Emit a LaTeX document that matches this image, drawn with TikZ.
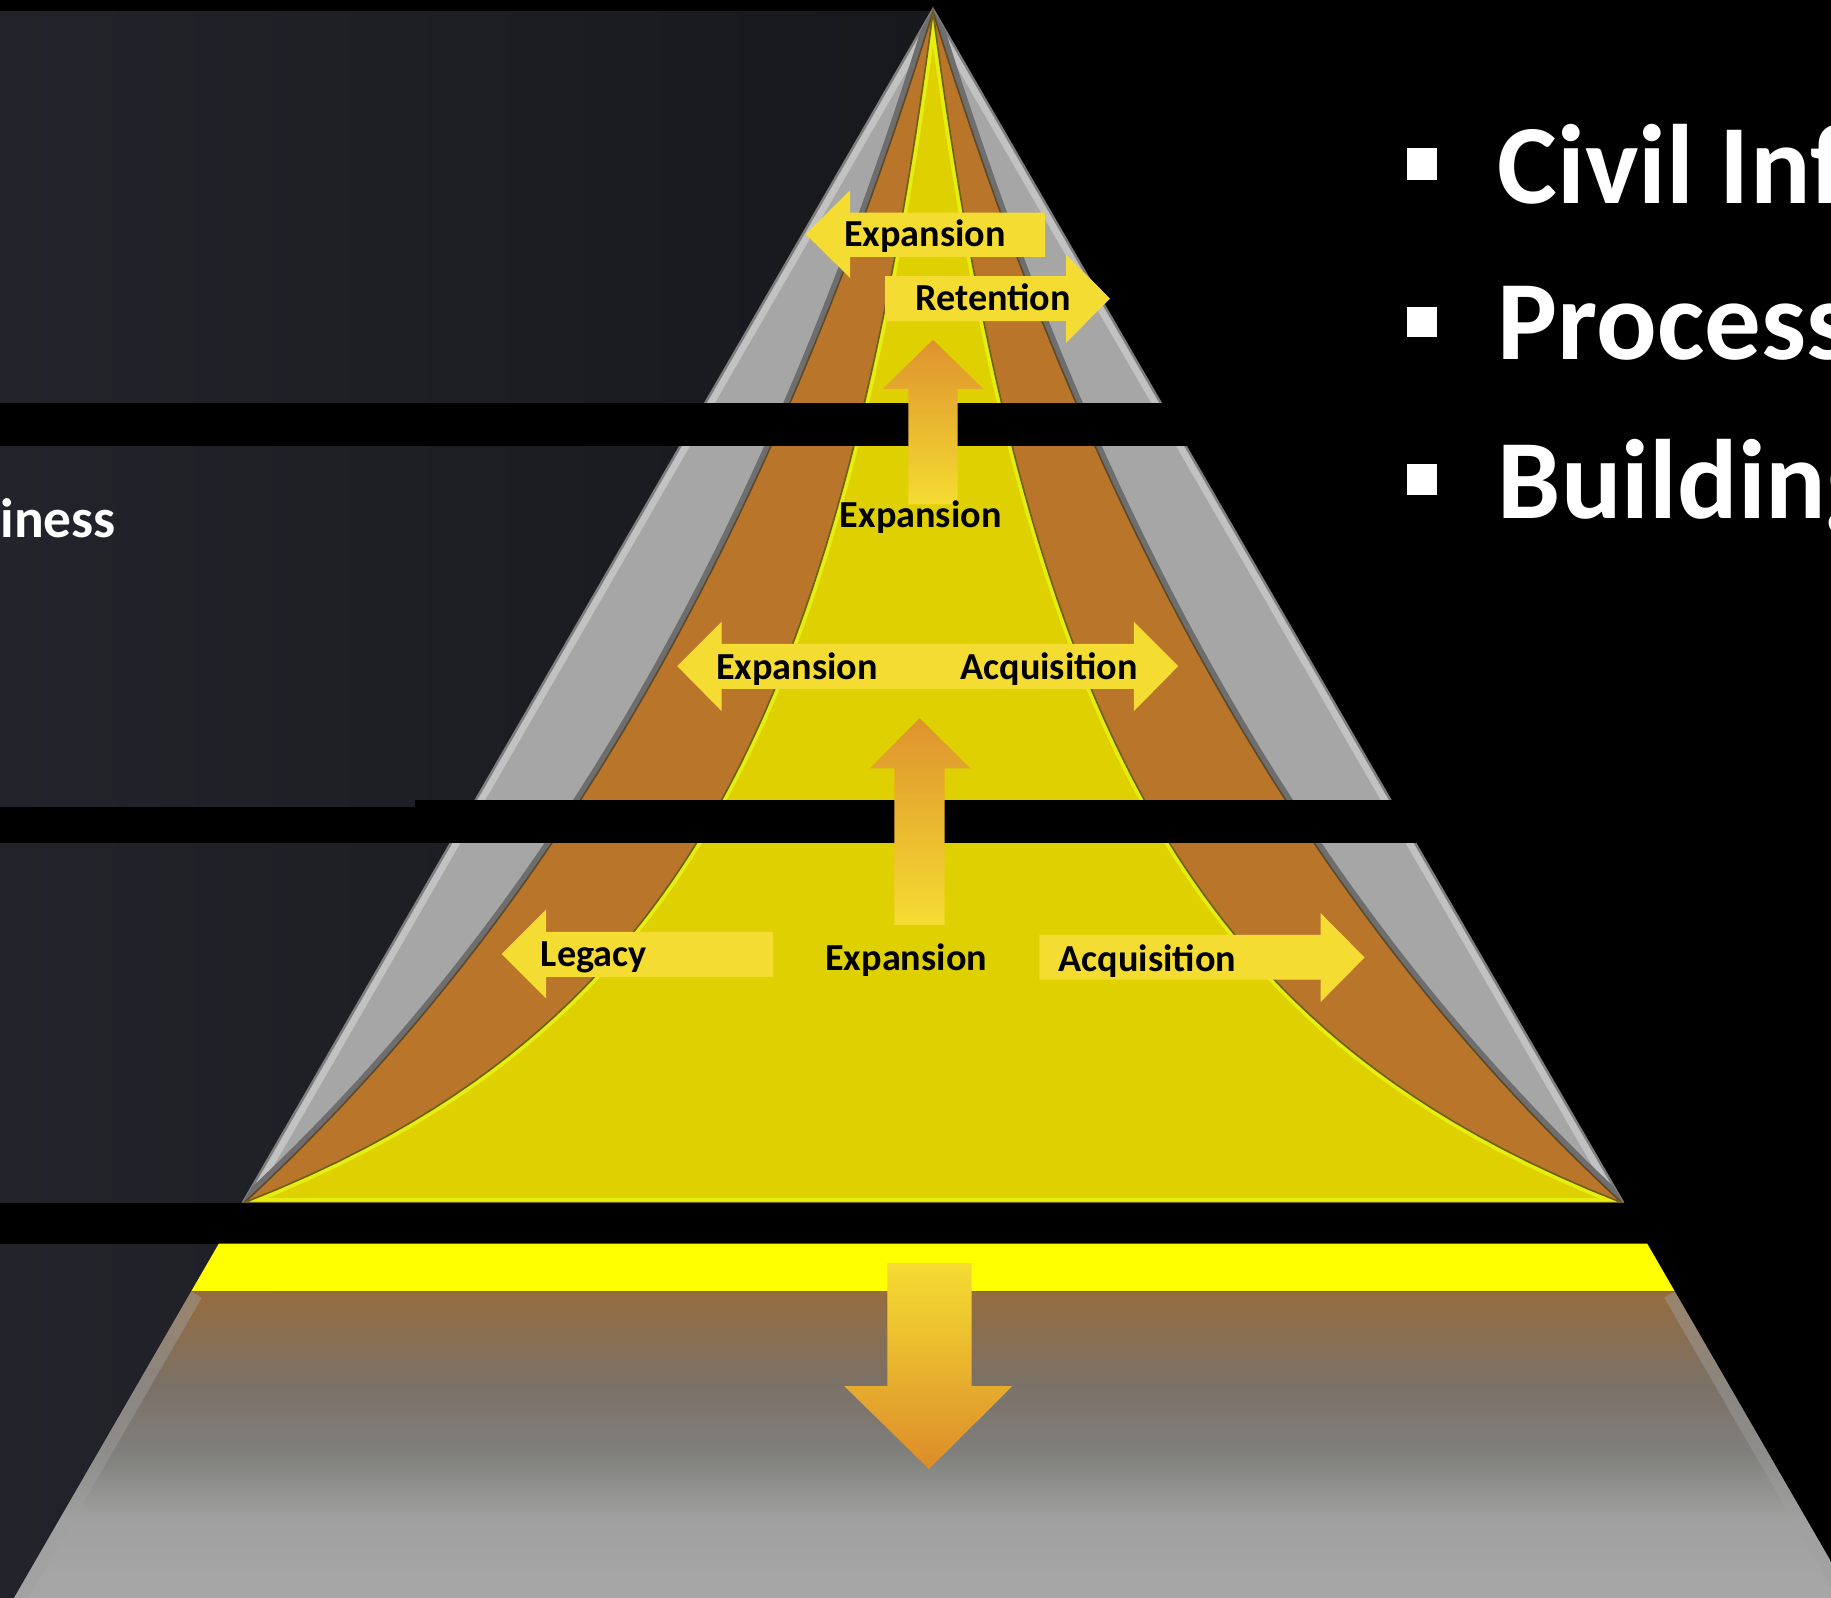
\documentclass[tikz,border=0pt]{standalone}
\usepackage{fontspec}
\setmainfont{Carlito}
\definecolor{panelL}{HTML}{23242B}
\definecolor{panelR}{HTML}{17181C}
\definecolor{pgray}{HTML}{A6A6A6}
\definecolor{glight}{HTML}{C2C2C2}
\definecolor{gedge}{HTML}{7E7E7E}
\definecolor{gshadow}{HTML}{6E6E6E}
\definecolor{porange}{HTML}{B9762A}
\definecolor{oedge}{HTML}{5E4A2A}
\definecolor{pyellow}{HTML}{DFD002}
\definecolor{ylime}{HTML}{E6EE10}
\definecolor{yedge}{HTML}{6E6018}
\definecolor{ayellow}{HTML}{F5DC32}
\definecolor{aorange}{HTML}{DE922E}
\definecolor{dorange}{HTML}{DC8C2A}
\definecolor{byellow}{HTML}{FFFF00}
\definecolor{cA}{HTML}{956C3E}
\definecolor{cB}{HTML}{7B7167}
\definecolor{cC}{HTML}{807F7C}
\definecolor{cD}{HTML}{A0A0A0}
\definecolor{cE}{HTML}{A7A7A7}
\pgfdeclareverticalshading{basegrad}{100bp}{color(0bp)=(cE); color(25bp)=(cE); color(38.5bp)=(cD); color(49bp)=(cC); color(60bp)=(cB); color(75bp)=(cA); color(100bp)=(cA)}
\def\gtri{(799,8) -- (208,1030) -- (1390,1030) -- cycle}
% orange outer boundary: dx = 681 s/(21.975 - s), y = 10 + 100 s
\def\opath{plot[domain=0:10.2, samples=90] ({799-681*\x/(21.975-\x)}, {10+100*\x}) -- plot[domain=0:10.2, samples=90] ({799+681*(10.2-\x)/(11.775+\x)}, {1030-100*\x}) -- cycle}
% yellow boundary: dx = 172.4 s/(13.18 - s)
\def\ypath{plot[domain=0:10.2, samples=90] ({799-172.4*\x/(13.18-\x)}, {10+100*\x}) -- plot[domain=0:10.2, samples=90] ({799+172.4*(10.2-\x)/(2.98+\x)}, {1030-100*\x}) -- cycle}
\def\basetrap{(163.7,1106) -- (1434.3,1106) -- (1588,1372) -- (10,1372) -- cycle}
\begin{document}
\begin{tikzpicture}[x=0.01cm,y=-0.01cm,
  lbl/.style={font=\fontsize{9.3pt}{11pt}\selectfont\bfseries, text=black, inner sep=0pt},
  bigtxt/.style={font=\fontsize{27.5pt}{33pt}\selectfont\bfseries, text=white, inner sep=0pt},
  sidetxt/.style={font=\fontsize{13.5pt}{16pt}\selectfont\bfseries, text=white, inner sep=0pt},
  yarrow/.style={fill=ayellow},
  uparrow/.style={top color=aorange, bottom color=ayellow},
  downarrow/.style={top color=ayellow, bottom color=dorange},
  bar/.style={fill=black}]
\useasboundingbox (0,0) rectangle (1568,1368);
\clip (0,0) rectangle (1568,1368);
\fill[black] (0,0) rectangle (1568,1368);
\shade[left color=panelL, right color=panelR] (0,10) rectangle (799,1368);
% pyramid
\fill[pgray] \gtri;
\begin{scope}
  \clip \gtri;
  \draw[line width=4pt, glight] (799,8) -- (208,1030) (799,8) -- (1390,1030);
\end{scope}
\draw[line width=0.6pt, gedge] (208,1030) -- (799,8) -- (1390,1030);
\begin{scope}
  \clip \gtri;
  \draw[line width=3pt, gshadow] \opath;
\end{scope}
\fill[porange] \opath;
\draw[line width=0.4pt, oedge] \opath;
\fill[pyellow] \ypath;
\begin{scope}
  \clip \ypath;
  \draw[line width=2.2pt, ylime] \ypath;
\end{scope}
\draw[line width=0.4pt, yedge] \ypath;
% black bars
\fill[bar] (0,345) rectangle (1568,382);
\fill[bar] (355,685) rectangle (1568,722);
\fill[bar] (0,691) rectangle (355,722);
\fill[bar] (0,1030) rectangle (1568,1065);
% base
\fill[byellow] (187.4,1065) -- (1410.6,1065) -- (1434.3,1106) -- (163.7,1106) -- cycle;
\shade[shading=basegrad] \basetrap;
\begin{scope}
  \clip \basetrap;
  \draw[line width=6pt, color=cD, opacity=0.45] (163.7,1106) -- (10,1372) (1434.3,1106) -- (1588,1372);
\end{scope}
% arrows
\fill[yarrow] (690,200.5) -- (728,163) -- (728,182) -- (895,182) -- (895,220) -- (728,220) -- (728,238) -- cycle;
\fill[yarrow] (950.6,255.7) -- (913,218) -- (913,236.5) -- (758,236.5) -- (758,275) -- (913,275) -- (913,293.5) -- cycle;
\shade[uparrow] (799,291) -- (842,333) -- (820,333) -- (820,432) -- (778,432) -- (778,333) -- (756,333) -- cycle;
\fill[yarrow] (580,570.5) -- (618,532.5) -- (618,551.5) -- (971,551.5) -- (971,532.5) -- (1009,570.5) -- (971,609) -- (971,590) -- (618,590) -- (618,609) -- cycle;
\shade[uparrow] (787.5,615) -- (831,658) -- (809,658) -- (809,792) -- (766,792) -- (766,658) -- (745,658) -- cycle;
\fill[yarrow] (429.5,817) -- (467.6,779) -- (467.6,798) -- (662,798) -- (662,836.6) -- (467.6,836.6) -- (467.6,855) -- cycle;
\fill[yarrow] (1168.6,820) -- (1131,782) -- (1131,800.7) -- (890,800.7) -- (890,839) -- (1131,839) -- (1131,858) -- cycle;
\shade[downarrow] (760,1081.7) -- (832,1081.7) -- (832,1187) -- (867,1187) -- (795.5,1258) -- (723,1187) -- (760,1187) -- cycle;
% labels
\node[lbl, anchor=base] (l1) at (792,211.5) {Expansion};
\node[lbl, anchor=base] (l2) at (850.5,266) {Retention};
\node[lbl, anchor=base] (l3) at (788.5,452) {Expansion};
\node[lbl, anchor=base] (l4) at (682.5,581.5) {Expansion};
\node[lbl, anchor=base] (l5) at (898.5,581.5) {Acquisition};
\node[lbl, anchor=base] (l6) at (508.5,828) {Legacy};
\node[lbl, anchor=base] (l7) at (776,831) {Expansion};
\node[lbl, anchor=base] (l8) at (982.5,831.7) {Acquisition};
% side texts
\node[sidetxt, anchor=base east] (s1) at (100,460) {iness};
\fill[white] (1205,127) rectangle (1231,154);
\fill[white] (1205,263) rectangle (1231,289);
\fill[white] (1205,397) rectangle (1231,424);
\node[bigtxt, anchor=base west] (b1) at (1282,174) {Civil Inf};
\node[bigtxt, anchor=base west] (b2) at (1282,308) {Process};
\node[bigtxt, anchor=base west] (b3) at (1282,444) {Building};
\end{tikzpicture}
\end{document}
